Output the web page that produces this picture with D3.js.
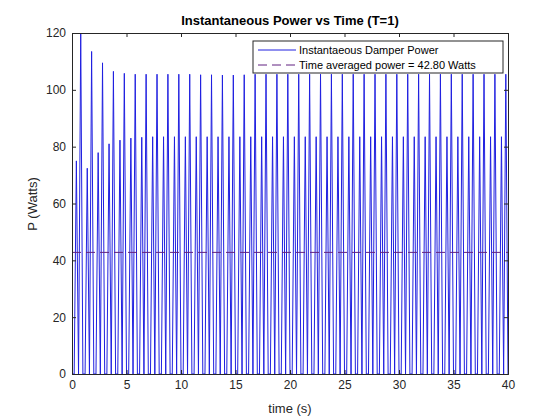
<!DOCTYPE html><html><head><script src="https://cdn.jsdelivr.net/npm/d3@7"></script>
<style>body{margin:0;background:#fff}text{font-family:Arial,"Liberation Sans",sans-serif}</style></head><body>
<svg id="c" width="560" height="420"></svg>
<script>
const lowPeaks=[75,72.4,77.9,81,82.3,83,83.3,83.5,83.5,83.5,83.5,83.5,83.5,83.5,83.5,83.5,83.5,83.5,83.5,83.5,83.5,83.5,83.5,83.5,83.5,83.5,83.5,83.5,83.5,83.5,83.5,83.5,83.5,83.5,83.5,83.5,83.5,83.5,83.5,83.5];
const highPeaks=[120,113.5,109.5,106.5,105.8,105.5,105.5,105.5,105.5,105.5,105.5,105.3,105.3,105.2,105.2,105.3,105.5,105.5,105.5,105.5,105.5,105.5,105.5,105.5,105.5,105.5,105.5,105.5,105.5,105.5,105.5,105.5,105.5,105.5,105.5,105.5,105.5,105.5,105.5,105.5];
const avgPower=42.80;
const xTicks=[0,5,10,15,20,25,30,35,40];
const yTicks=[0,20,40,60,80,100,120];
const svg=d3.select("#c");
const m={l:72,r:508,t:33,b:374};
const x=d3.scaleLinear().domain([0,40]).range([m.l,m.r]);
const y=d3.scaleLinear().domain([0,120]).range([m.b,m.t]);
svg.append("rect").attr("width",560).attr("height",420).attr("fill","#fff");
const pts=[[0,0]];
lowPeaks.forEach((v,k)=>{pts.push([k+0.2,0],[k+0.4,v],[k+0.6,0],[k+0.8,highPeaks[k]],[k+1.0,0]);});
svg.append("defs").append("clipPath").attr("id","cp").append("rect").attr("x",m.l).attr("y",m.t).attr("width",m.r-m.l).attr("height",m.b-m.t);
svg.append("path").attr("clip-path","url(#cp)").attr("d",d3.line().x(d=>x(d[0])).y(d=>y(d[1]))(pts)).attr("fill","none").attr("stroke","#2020e0").attr("stroke-width",1);
svg.append("line").attr("x1",x(0)).attr("x2",x(40)).attr("y1",y(avgPower)).attr("y2",y(avgPower)).attr("stroke","#602080").attr("stroke-dasharray","9,5").attr("stroke-width",1);
svg.append("g").attr("transform",`translate(0,${m.b})`).call(d3.axisBottom(x).tickValues(xTicks).tickSize(-4).tickPadding(6));
svg.append("g").attr("transform",`translate(0,${m.t})`).call(d3.axisTop(x).tickValues(xTicks).tickSize(-4).tickFormat(""));
svg.append("g").attr("transform",`translate(${m.l},0)`).call(d3.axisLeft(y).tickValues(yTicks).tickSize(-4).tickPadding(6));
svg.append("g").attr("transform",`translate(${m.r},0)`).call(d3.axisRight(y).tickValues(yTicks).tickSize(-4).tickFormat(""));
svg.selectAll(".domain,.tick line").attr("stroke","#262626");
svg.selectAll(".tick text").attr("font-size",12).attr("fill","#262626");
svg.append("text").attr("x",290).attr("y",25).attr("text-anchor","middle").attr("font-size",13).attr("font-weight","bold").attr("fill","#000").text("Instantaneous Power vs Time (T=1)");
svg.append("text").attr("x",290).attr("y",413).attr("text-anchor","middle").attr("font-size",13).attr("fill","#262626").text("time (s)");
svg.append("text").attr("transform","translate(37,204) rotate(-90)").attr("text-anchor","middle").attr("font-size",13).attr("fill","#262626").text("P (Watts)");
const lg=svg.append("g");
lg.append("rect").attr("x",253).attr("y",41).attr("width",250).attr("height",32).attr("fill","#fff").attr("stroke","#262626");
lg.append("line").attr("x1",258).attr("x2",296).attr("y1",50).attr("y2",50).attr("stroke","#2020e0");
lg.append("line").attr("x1",258).attr("x2",296).attr("y1",65).attr("y2",65).attr("stroke","#602080").attr("stroke-dasharray","9,5");
lg.append("text").attr("x",299).attr("y",54).attr("font-size",11).text("Instantaeous Damper Power");
lg.append("text").attr("x",299).attr("y",69).attr("font-size",11).text("Time averaged power = 42.80 Watts");
</script></body></html>
